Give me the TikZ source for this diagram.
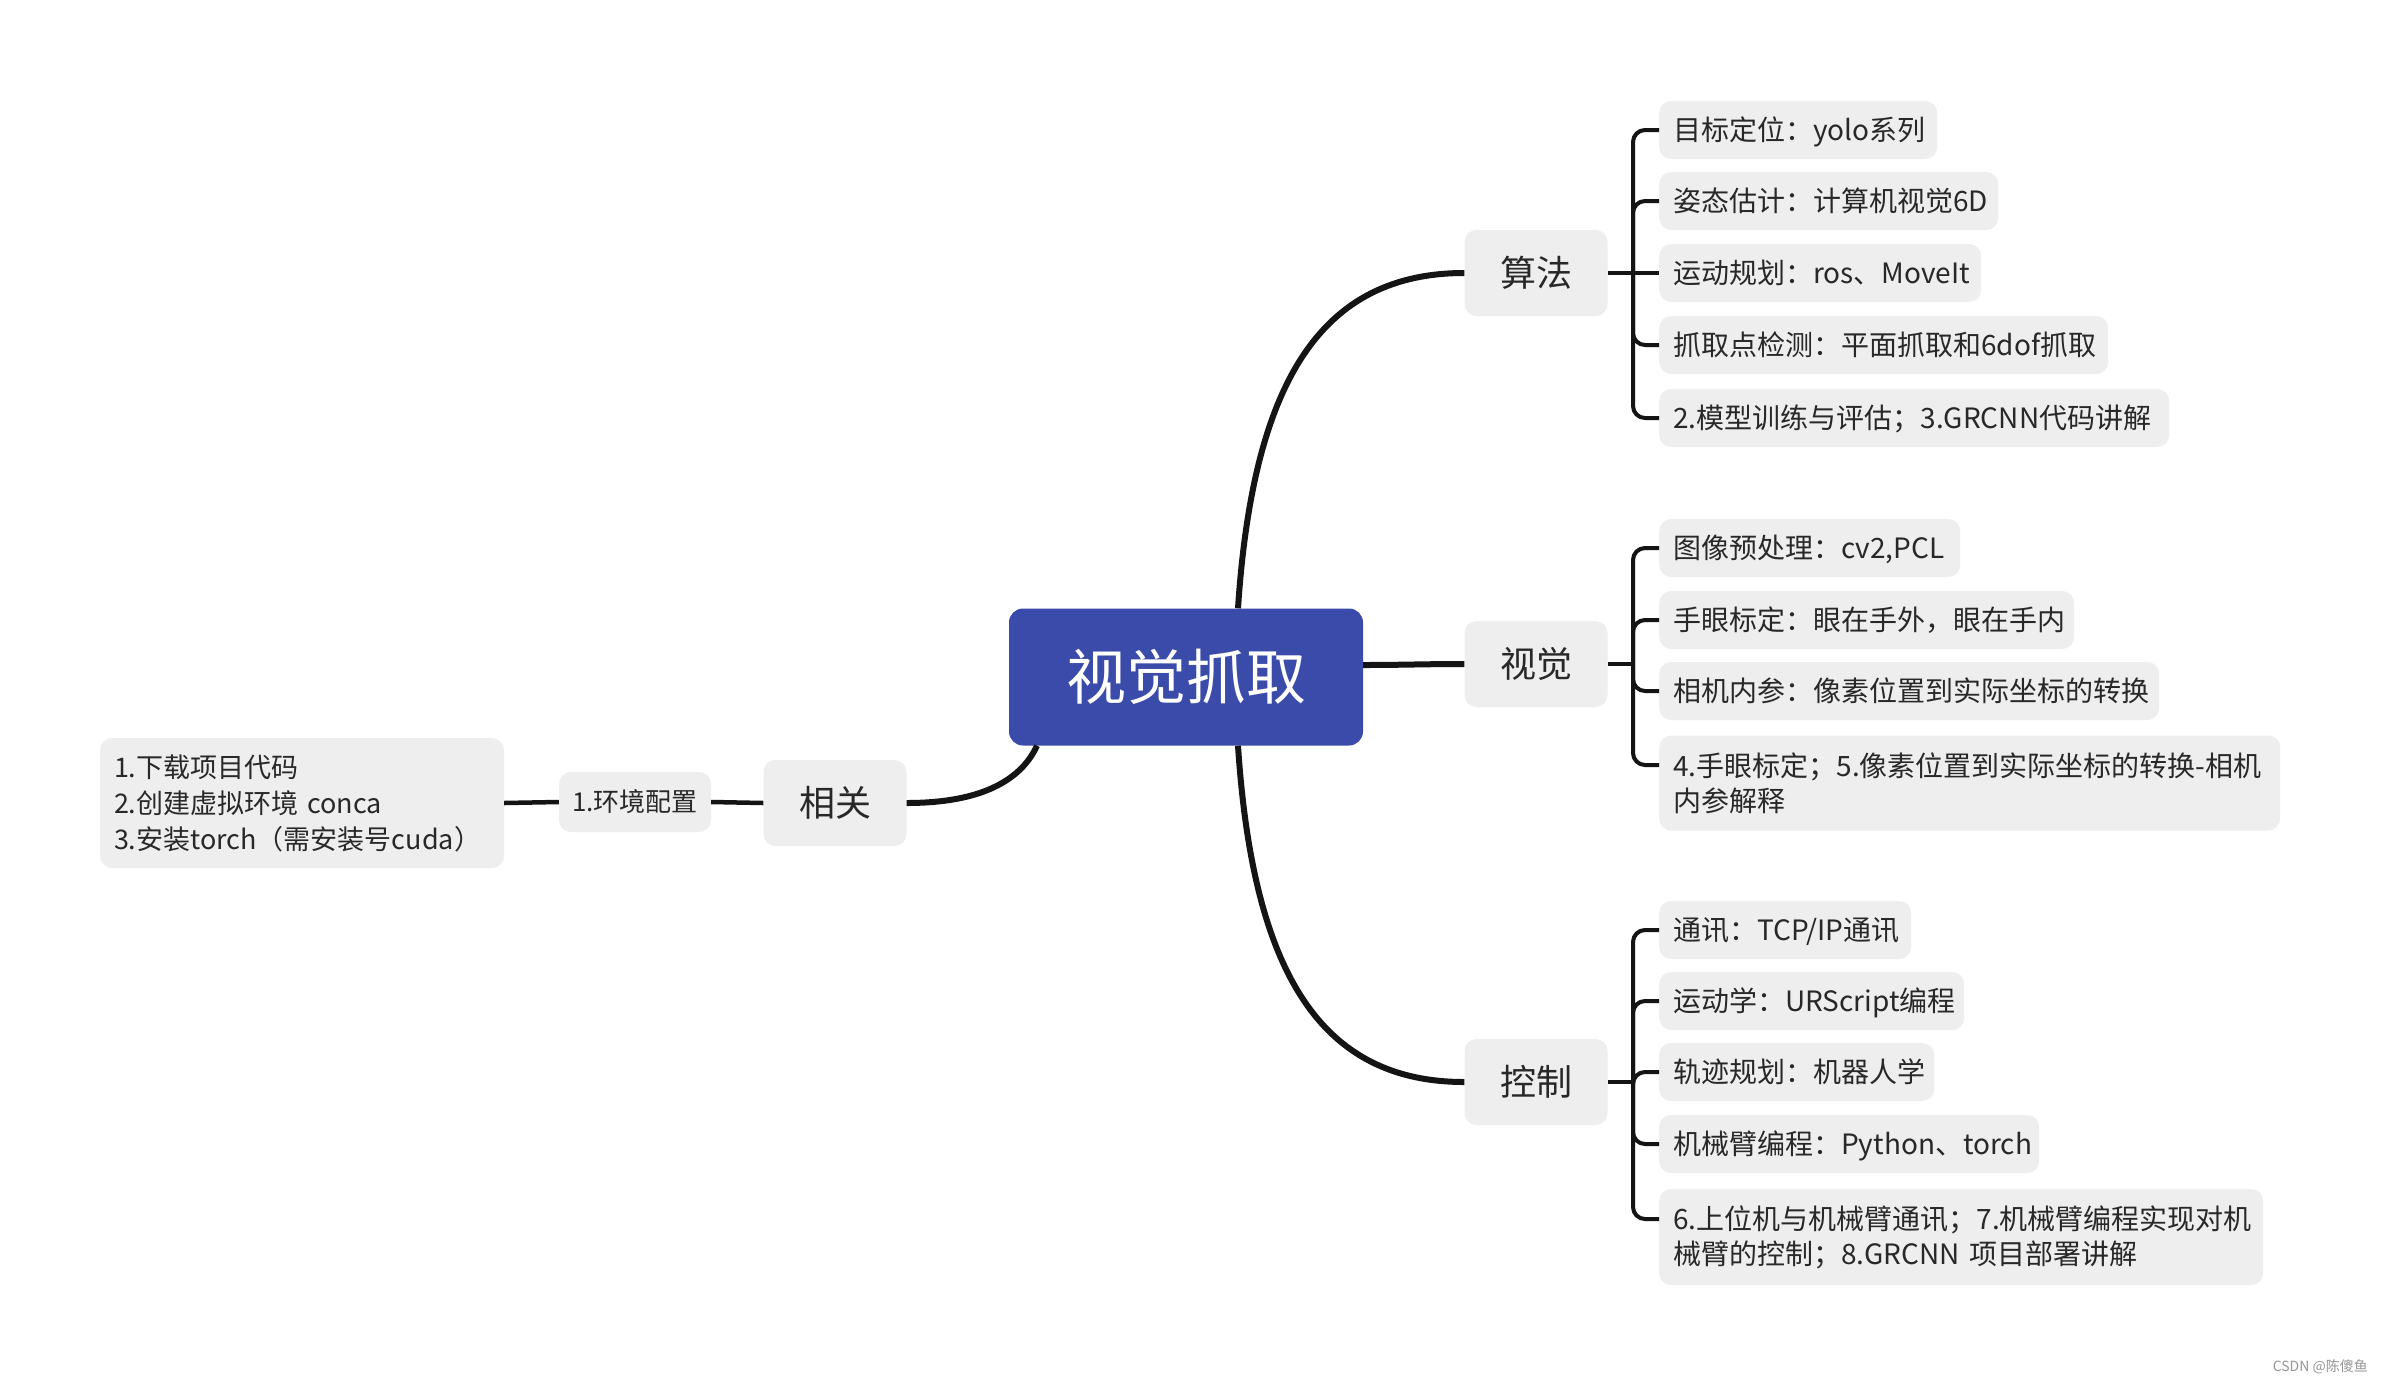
\documentclass[tikz,border=0pt]{standalone}
\usepackage{fontspec}
\setmainfont{Noto Sans CJK SC}
\usetikzlibrary{calc}
\definecolor{cblue}{RGB}{58,75,170}
\definecolor{boxgrey}{RGB}{238,238,238}
\definecolor{txt}{RGB}{40,40,40}
\definecolor{lin}{RGB}{20,20,20}
\definecolor{wm}{RGB}{150,150,150}
\begin{document}
\begin{tikzpicture}[x=1pt,y=-1pt,
  central/.style={fill=cblue, rounded corners=14pt, minimum width=354pt, minimum height=137pt, text=white, font=\fontsize{60}{60}\selectfont, inner sep=0pt, text height=50pt, text depth=4.5pt},
  branch/.style={fill=boxgrey, rounded corners=12pt, minimum width=143pt, minimum height=86pt, text=txt, font=\fontsize{36}{36}\selectfont, inner sep=0pt, text height=30pt, text depth=2.8pt},
  leaf/.style={fill=boxgrey, rounded corners=12pt, anchor=west, minimum height=58pt, inner xsep=14pt, inner ysep=0pt, align=left, text=txt, font=\fontsize{28}{35}\selectfont},
  one/.style={text height=23.4pt, text depth=2.3pt},
  mainline/.style={draw=lin, line width=6pt},
  brk/.style={draw=lin, line width=4pt, rounded corners=12pt},
  sideline/.style={draw=lin, line width=4.5pt}
]
\useasboundingbox[fill=white] (0,0) rectangle (2382,1384);

% central
\node[central] (c) at (1186,677) {视觉抓取};

% branches
\node[branch] (alg) at (1536,273) {算法};
\node[branch] (vis) at (1536,664) {视觉};
\node[branch] (ctl) at (1536,1082) {控制};
\node[branch] (rel) at (835,803) {相关};

% left side
\node[fill=boxgrey, rounded corners=12pt, minimum width=152pt, minimum height=60pt, inner sep=0pt, text=txt, font=\fontsize{26}{26}\selectfont, text height=21.8pt, text depth=2.1pt] (env) at (635,802) {1.环境配置};
\node[fill=boxgrey, rounded corners=12pt, minimum height=130pt, inner xsep=14pt, inner ysep=0pt, text width=376pt, align=left, text=txt, font=\fontsize{27}{36}\selectfont] (steps) at (302,803) {1.下载项目代码\\2.创建虚拟环境 conca\\3.安装torch（需安装号cuda）};

% algorithm leaves
\node[leaf, one, text width=250pt] (a1) at (1659,130) {目标定位：yolo系列};
\node[leaf, one, text width=311pt] (a2) at (1659,201) {姿态估计：计算机视觉6D};
\node[leaf, one, text width=294pt] (a3) at (1659,273) {运动规划：ros、MoveIt};
\node[leaf, one, text width=421pt] (a4) at (1659,345) {抓取点检测：平面抓取和6dof抓取};
\node[leaf, one, text width=482pt] (a5) at (1659,418) {2.模型训练与评估；3.GRCNN代码讲解};

% vision leaves
\node[leaf, one, text width=273pt] (v1) at (1659,548) {图像预处理：cv2,PCL};
\node[leaf, one, text width=387pt] (v2) at (1659,620) {手眼标定：眼在手外，眼在手内};
\node[leaf, one, text width=472pt] (v3) at (1659,691) {相机内参：像素位置到实际坐标的转换};
\node[leaf, text width=593pt, minimum height=95pt] (v4) at (1659,783) {4.手眼标定；5.像素位置到实际坐标的转换-相机\\内参解释};

% control leaves
\node[leaf, one, text width=224pt] (k1) at (1659,930) {通讯：TCP/IP通讯};
\node[leaf, one, text width=277pt] (k2) at (1659,1001) {运动学：URScript编程};
\node[leaf, one, text width=247pt] (k3) at (1659,1072) {轨迹规划：机器人学};
\node[leaf, one, text width=352pt] (k4) at (1659,1144) {机械臂编程：Python、torch};
\node[leaf, text width=576pt, minimum height=96pt] (k5) at (1659,1237) {6.上位机与机械臂通讯；7.机械臂编程实现对机\\械臂的控制；8.GRCNN 项目部署讲解};

% main connectors
\draw[mainline] ([xshift=52pt]c.north) .. controls (1253,380) and (1322,273) .. (alg.west);
\draw[mainline] ([xshift=52pt]c.south) .. controls (1253,975) and (1322,1082) .. (ctl.west);
\draw[mainline] ([yshift=12pt]c.east) to[out=0,in=180] (vis.west);
\draw[mainline] (rel.east) .. controls (985,803) and (1022,778) .. ([xshift=-149pt]c.south);

% left connectors
\draw[sideline] (rel.west) -- (env.east);
\draw[sideline] (env.west) -- (steps.east);

% algorithm bracket
\coordinate (ab) at (1633,273);
\draw[brk] (alg.east) -- (ab);
\foreach \n in {a1,a2,a4,a5} \draw[brk] (ab) |- (\n.west);
\draw[brk] (ab) -- (a3.west);

% vision bracket
\coordinate (vb) at (1633,664);
\draw[brk] (vis.east) -- (vb);
\foreach \n in {v1,v2,v3} \draw[brk] (vb) |- (\n.west);
\draw[brk] (vb) |- ([yshift=18pt]v4.west);

% control bracket
\coordinate (kb) at (1633,1082);
\draw[brk] (ctl.east) -- (kb);
\foreach \n in {k1,k2,k3,k4} \draw[brk] (kb) |- (\n.west);
\draw[brk] (kb) |- ([yshift=18pt]k5.west);

% watermark
\node[anchor=east, inner sep=0pt, text=wm, font=\fontsize{14}{14}\selectfont] (wmk) at (2368,1367) {CSDN @陈傻鱼};
\end{tikzpicture}
\end{document}
